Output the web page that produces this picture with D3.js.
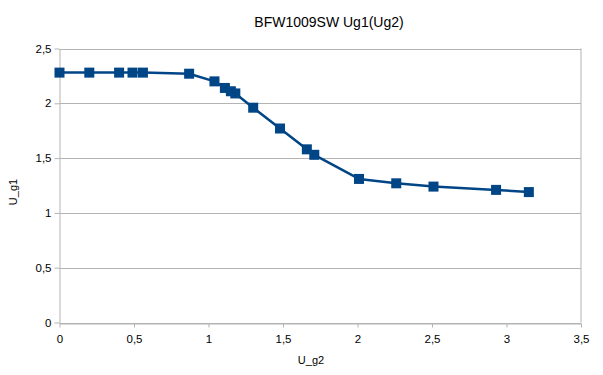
<!DOCTYPE html>
<html>
<head>
<meta charset="utf-8">
<script src="https://cdn.jsdelivr.net/npm/d3@7"></script>
<style>
  body { margin: 0; background: #fff; }
  svg { display: block; font-family: "Liberation Sans", Arial, sans-serif; }
</style>
</head>
<body>
<div id="chart"></div>
<script>
// values
const ug2 = [0, 0.2, 0.4, 0.49, 0.56, 0.87, 1.04, 1.11, 1.15, 1.18, 1.30, 1.48, 1.66, 1.71, 2.01, 2.26, 2.51, 2.93, 3.15];
const ug1 = [2.28, 2.28, 2.28, 2.28, 2.28, 2.27, 2.20, 2.14, 2.11, 2.09, 1.96, 1.77, 1.58, 1.53, 1.31, 1.27, 1.24, 1.21, 1.19];
const xTicks = [0, 0.5, 1, 1.5, 2, 2.5, 3, 3.5];
const yTicks = [0, 0.5, 1, 1.5, 2, 2.5];

const width = 603, height = 375;
const plot = { left: 59.5, right: 581, top: 48.5, bottom: 322.5 };
const color = "#004586";
const fmt = d => String(d).replace(".", ",");

const svg = d3.select("#chart").append("svg")
    .attr("width", width)
    .attr("height", height);

const x = d3.scaleLinear().domain([0, 3.5]).range([plot.left, plot.right]);
const y = d3.scaleLinear().domain([0, 2.5]).range([plot.bottom, plot.top]);

// horizontal grid
svg.append("g")
    .selectAll("line")
    .data(yTicks)
    .enter().append("line")
    .attr("x1", plot.left).attr("x2", plot.right)
    .attr("y1", d => Math.round(y(d)) + 0.5)
    .attr("y2", d => Math.round(y(d)) + 0.5)
    .attr("stroke", "#b3b3b3");

// right border
svg.append("line")
    .attr("x1", plot.right).attr("x2", plot.right)
    .attr("y1", plot.top).attr("y2", plot.bottom)
    .attr("stroke", "#b3b3b3");

// axes
const xAxis = svg.append("g")
    .attr("transform", `translate(0,${Math.round(plot.bottom) + 0.5})`)
    .call(d3.axisBottom(x).tickValues(xTicks).tickFormat(fmt).tickSize(4).tickSizeOuter(0));
const yAxis = svg.append("g")
    .attr("transform", `translate(${plot.left},0)`)
    .call(d3.axisLeft(y).tickValues(yTicks).tickFormat(fmt).tickSize(5).tickSizeOuter(0));

[xAxis, yAxis].forEach(a => {
    a.select(".domain").attr("stroke", "#b3b3b3");
    a.selectAll(".tick line").attr("stroke", "#b3b3b3");
    a.selectAll(".tick text")
        .attr("fill", "#000")
        .attr("font-size", "11.5px")
        .attr("font-family", "Liberation Sans, Arial, sans-serif");
});
xAxis.selectAll(".tick text").attr("dy", null).attr("y", 19);
yAxis.selectAll(".tick text").attr("x", -8);

// series line
const points = ug2.map((v, i) => [v, ug1[i]]);
svg.append("path")
    .datum(points)
    .attr("fill", "none")
    .attr("stroke", color)
    .attr("stroke-width", 2.5)
    .attr("stroke-linejoin", "round")
    .attr("d", d3.line().x(d => x(d[0])).y(d => y(d[1])));

// markers
const ms = 10;
svg.append("g")
    .selectAll("rect")
    .data(points)
    .enter().append("rect")
    .attr("x", d => x(d[0]) - ms / 2)
    .attr("y", d => y(d[1]) - ms / 2)
    .attr("width", ms)
    .attr("height", ms)
    .attr("fill", color);

// titles
svg.append("text")
    .attr("x", 329).attr("y", 27)
    .attr("text-anchor", "middle")
    .attr("font-size", "14px")
    .text("BFW1009SW Ug1(Ug2)");

svg.append("text")
    .attr("x", 311).attr("y", 364)
    .attr("text-anchor", "middle")
    .attr("font-size", "11px")
    .text("U_g2");

svg.append("text")
    .attr("transform", "translate(17,192) rotate(-90)")
    .attr("text-anchor", "middle")
    .attr("font-size", "11px")
    .text("U_g1");
</script>
</body>
</html>
